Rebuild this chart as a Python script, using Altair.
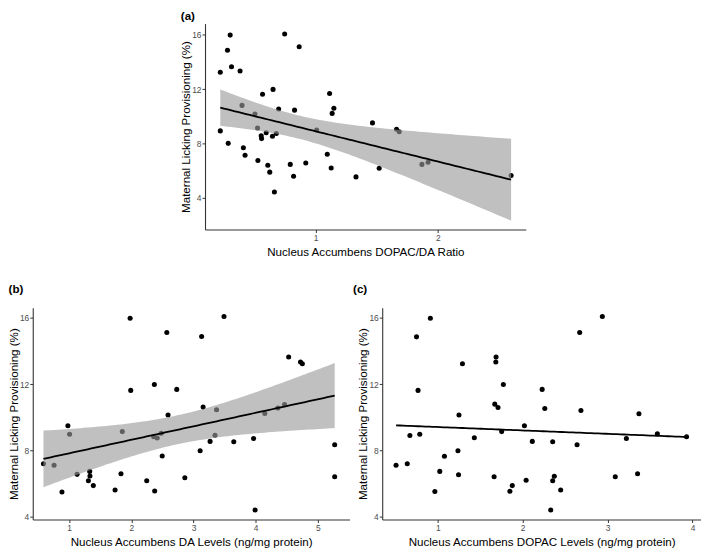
import altair as alt
import numpy as np
import pandas as pd

FONT = "Liberation Sans"
YTITLE = "Maternal Licking Provisioning (%)"
Y_TICKS = [4, 8, 12, 16]

# Panel (a): Nucleus Accumbens DOPAC/DA ratio vs maternal licking
a_x = [0.219, 0.219, 0.278, 0.300, 0.311, 0.284, 0.381, 0.397, 0.408, 0.422,
       0.503, 0.524, 0.527, 0.565, 0.554, 0.557, 0.595, 0.608, 0.624, 0.651,
       0.646, 0.678, 0.697, 0.662, 0.746, 0.792, 0.819, 0.827, 0.865, 0.919,
       1.008, 1.095, 1.114, 1.127, 1.135, 1.149, 1.330, 1.465, 1.520, 1.662,
       1.684, 1.870, 1.920, 2.600]
a_y = [13.25, 8.92, 14.87, 15.98, 13.65, 8.00, 13.34, 10.80, 7.67, 7.13,
       10.16, 9.13, 6.73, 11.62, 8.56, 8.35, 8.78, 6.38, 5.88, 11.98,
       8.52, 8.73, 10.54, 4.42, 16.07, 6.45, 5.58, 10.45, 15.13, 6.56,
       8.99, 7.20, 11.67, 6.19, 10.21, 10.59, 5.53, 9.51, 6.17, 9.04,
       8.85, 6.45, 6.61, 5.63]

# Panel (b): DA levels
b_x = [1.98, 2.57, 2.37, 1.99, 2.73, 3.49, 3.13, 4.53, 4.72, 4.75,
       0.586, 0.757, 0.979, 1.006, 0.884, 1.127, 1.33, 1.334, 1.309, 1.388,
       1.854, 1.833, 1.738, 2.247, 2.375, 2.359, 2.416, 2.48, 2.496, 2.59,
       2.86, 3.154, 3.37, 3.106, 3.266, 3.345, 3.647, 3.966, 3.99, 4.146,
       4.357, 4.464, 5.27, 5.27]
b_y = [15.98, 15.12, 11.98, 11.62, 11.68, 16.08, 14.87, 13.63, 13.33, 13.23,
       7.19, 7.10, 9.49, 8.97, 5.49, 6.55, 6.73, 6.45, 6.17, 5.87,
       9.13, 6.59, 5.61, 6.17, 5.55, 8.82, 8.74, 9.03, 7.66, 10.13,
       6.35, 10.61, 10.45, 7.98, 8.54, 8.91, 8.52, 8.72, 4.40, 10.23,
       10.55, 10.76, 8.34, 6.41]

# Panel (c): DOPAC levels
c_x = [0.912, 0.749, 0.767, 1.29, 1.686, 1.683, 1.772, 2.229, 2.938, 2.671,
       0.508, 0.64, 0.671, 0.787, 0.965, 1.023, 1.078, 1.237, 1.249, 1.244,
       1.43, 1.663, 1.671, 1.709, 1.752, 1.849, 1.877, 2.02, 2.04, 2.113,
       2.26, 2.353, 2.353, 2.372, 2.447, 2.33, 2.686, 2.64, 3.09, 3.221,
       3.353, 3.369, 3.586, 3.93]
c_y = [15.98, 14.85, 11.62, 13.23, 13.63, 13.33, 11.98, 11.68, 16.08, 15.12,
       7.10, 7.19, 8.90, 8.97, 5.52, 6.73, 7.64, 7.98, 10.13, 6.53,
       8.76, 6.41, 10.79, 10.59, 9.13, 5.53, 5.87, 9.49, 6.19, 8.54,
       10.53, 8.52, 6.17, 6.43, 5.61, 4.40, 10.41, 8.34, 6.41, 8.72,
       6.59, 10.21, 9.00, 8.82]


def fit_band(xs, ys, n=80, tcrit=2.018):
    x = np.asarray(xs, dtype=float)
    y = np.asarray(ys, dtype=float)
    b1, b0 = np.polyfit(x, y, 1)
    res = y - (b0 + b1 * x)
    s = np.sqrt((res ** 2).sum() / (len(x) - 2))
    sxx = ((x - x.mean()) ** 2).sum()
    g = np.linspace(x.min(), x.max(), n)
    f = b0 + b1 * g
    se = s * np.sqrt(1.0 / len(x) + (g - x.mean()) ** 2 / sxx)
    return pd.DataFrame({"x": g, "fit": f, "lo": f - tcrit * se, "hi": f + tcrit * se})


def axis(values, title, tpad):
    return alt.Axis(
        values=values, title=title, format="d", grid=False,
        domainColor="#333333", domainWidth=1.1, tickColor="#333333", tickSize=3,
        labelColor="#4d4d4d", labelFont=FONT, labelFontSize=8.5, labelPadding=1,
        titleFont=FONT, titleFontSize=11.7, titleFontWeight="normal",
        titleColor="black", titlePadding=tpad,
    )


def panel(xs, ys, xdom, ydom, xticks, xtitle, tag, w, h, band=True, toff=4, tdx=0):
    pts = pd.DataFrame({"x": xs, "y": ys})
    fb = fit_band(xs, ys)
    xsc = alt.Scale(domain=xdom, nice=False, zero=False)
    ysc = alt.Scale(domain=ydom, nice=False, zero=False)
    xax = axis(xticks, xtitle, 5)
    yax = axis(Y_TICKS, YTITLE, 0)
    layers = [
        alt.Chart(pts).mark_circle(size=26, color="black", opacity=1).encode(
            x=alt.X("x:Q", scale=xsc, axis=xax, title=xtitle),
            y=alt.Y("y:Q", scale=ysc, axis=yax, title=YTITLE),
        )
    ]
    if band:
        layers.append(
            alt.Chart(fb).mark_area(color="#9a9a9a", opacity=0.62).encode(
                x=alt.X("x:Q", scale=xsc, axis=xax, title=xtitle),
                y=alt.Y("lo:Q", scale=ysc, axis=yax, title=YTITLE),
                y2="hi:Q",
            )
        )
    layers.append(
        alt.Chart(fb).mark_line(color="black", strokeWidth=1.8).encode(
            x=alt.X("x:Q", scale=xsc, axis=xax, title=xtitle),
            y=alt.Y("fit:Q", scale=ysc, axis=yax, title=YTITLE),
        )
    )
    return alt.layer(*layers).properties(
        width=w,
        height=h,
        title=alt.TitleParams(tag, anchor="start", frame="bounds", fontSize=11.7,
                              fontWeight="bold", font=FONT, color="black",
                              offset=toff, dx=tdx),
    )


pa = panel(a_x, a_y, [0.094, 2.72], [1.65, 16.83], [1, 2],
           "Nucleus Accumbens DOPAC/DA Ratio", "(a)", 324, 208, toff=1)
pb = panel(b_x, b_y, [0.414, 5.509], [3.82, 16.61], [1, 2, 3, 4, 5],
           "Nucleus Accumbens DA Levels (ng/mg protein)", "(b)", 320, 214, toff=12)
pc = panel(c_x, c_y, [0.345, 4.10], [3.82, 16.61], [1, 2, 3, 4],
           "Nucleus Accumbens DOPAC Levels (ng/mg protein)", "(c)", 322, 214,
           band=False, toff=12, tdx=-5)

spacer = alt.Chart(pd.DataFrame({"v": [0]})).mark_point(opacity=0, size=1).encode(
    x=alt.value(0), y=alt.value(0)
).properties(width=148, height=10)

top = alt.hconcat(spacer, pa, spacing=1)
bottom = alt.hconcat(pb, pc, spacing=3)

chart = alt.vconcat(top, bottom, spacing=25).properties(
    padding=0, background="white"
).configure_view(stroke=None)

chart.save("out.html", embed_options={"renderer": "svg", "actions": False})
